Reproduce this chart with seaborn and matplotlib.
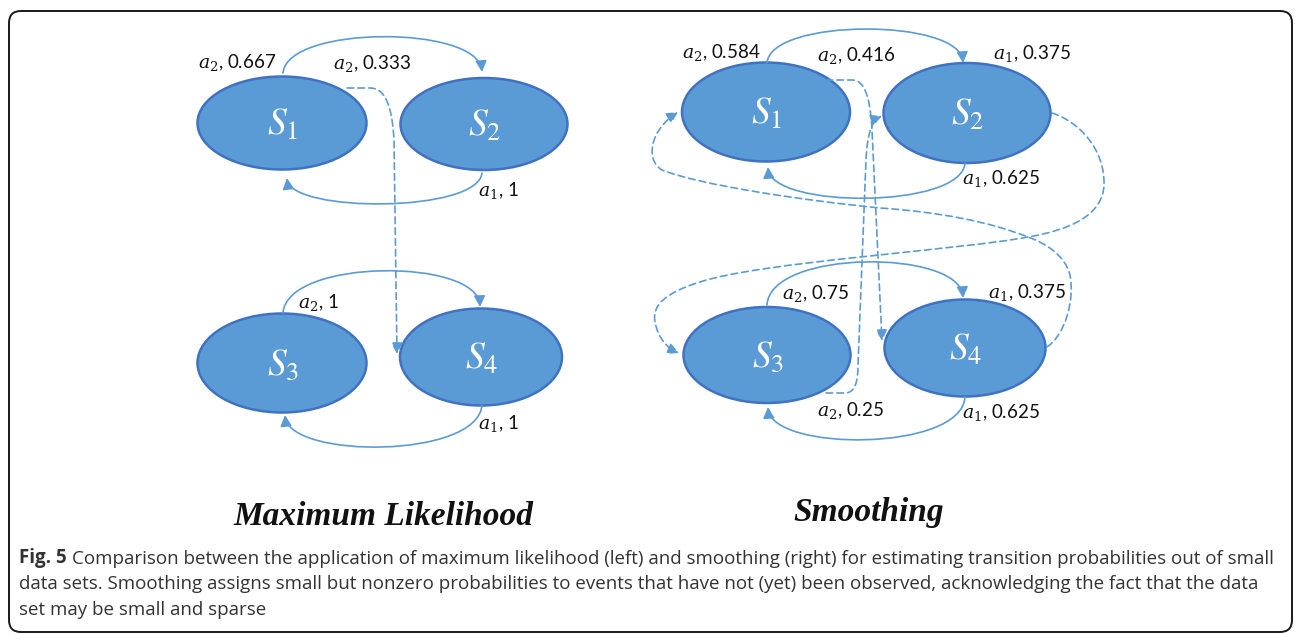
import matplotlib
matplotlib.use("Agg")
import matplotlib.pyplot as plt
import seaborn as sns
from matplotlib.patches import Ellipse, FancyArrowPatch, FancyBboxPatch
from matplotlib.path import Path

# data: states, actions and transition probabilities of both panels
state_names = ["S_1", "S_2", "S_3", "S_4"]
ml_actions = ["a_2", "a_2", "a_1", "a_2", "a_1"]
ml_probs = ["0.667", "0.333", "1", "1", "1"]
sm_actions = ["a_2", "a_2", "a_1", "a_1", "a_2", "a_1", "a_2", "a_1"]
sm_probs = ["0.584", "0.416", "0.375", "0.625", "0.75", "0.375", "0.25", "0.625"]
panel_titles = ["Maximum Likelihood", "Smoothing"]
caption_head = "Fig. 5"
caption_lines = [
    "Comparison between the application of maximum likelihood (left) and smoothing (right) for estimating transition probabilities out of small",
    "data sets. Smoothing assigns small but nonzero probabilities to events that have not (yet) been observed, acknowledging the fact that the data",
    "set may be small and sparse",
]

# layout (pixel units of the 1295x634 canvas)
ml_nodes = [(282, 123, 169, 93), (484, 124, 167, 92), (282, 363, 169, 99), (481, 357, 162, 97)]
sm_nodes = [(766, 112, 168, 99), (967, 113, 167, 100), (767, 355, 167, 96), (965, 348, 161, 97)]
ml_label_pos = [(198, 68), (333, 69), (478, 196), (298, 308), (478, 429)]
sm_label_pos = [(682, 58), (817, 61), (993, 59), (962, 184), (782, 299), (988, 298), (817, 416), (962, 418)]

ml_solid = [
    [("M", (283, 73)), ("C", (287, 25), (478, 25), (482, 72))],
    [("M", (482, 173)), ("C", (478, 213), (291, 213), (287, 178))],
    [("M", (283, 313)), ("C", (287, 258), (478, 258), (480, 307))],
    [("M", (482, 405)), ("C", (478, 459), (289, 459), (285, 415))],
]
ml_dashed = [
    [("M", (347, 88)), ("L", (370, 88)), ("C", (385, 88), (392, 105), (394, 140)), ("L", (397, 354))],
]
sm_solid = [
    [("M", (767, 63)), ("C", (770, 18), (960, 18), (963, 63))],
    [("M", (965, 163)), ("C", (962, 209), (771, 209), (768, 167))],
    [("M", (767, 305)), ("C", (770, 249), (960, 249), (963, 298))],
    [("M", (965, 397)), ("C", (962, 452), (771, 452), (768, 407))],
]
sm_dashed = [
    [("M", (826, 80)), ("L", (852, 80)), ("C", (864, 80), (870, 95), (872, 130)), ("L", (882, 341))],
    [("M", (826, 393)), ("L", (845, 393)), ("C", (855, 393), (858, 382), (858, 365)),
     ("L", (866, 160)), ("C", (867, 135), (872, 120), (882, 116))],
    [("M", (1052, 113)), ("C", (1080, 122), (1105, 150), (1104, 185)),
     ("C", (1103, 215), (1070, 230), (1028, 237)), ("C", (960, 250), (760, 262), (700, 282)),
     ("C", (665, 293), (652, 305), (655, 322)), ("C", (658, 338), (667, 348), (679, 353))],
    [("M", (1047, 347)), ("C", (1065, 335), (1075, 300), (1070, 275)),
     ("C", (1065, 255), (1045, 243), (1028, 237)), ("C", (990, 222), (940, 212), (880, 208)),
     ("C", (800, 200), (700, 185), (662, 170)), ("C", (645, 160), (650, 130), (678, 112))],
]

fill_col = "#5B9BD5"
edge_col = "#3F72C2"
arrow_col = "#5B9BD5"

sns.set_theme(style="white")
plt.rcParams["font.family"] = ["Open Sans", "DejaVu Sans"]
plt.rcParams["mathtext.fontset"] = "stix"


def make_path(spec):
    verts, codes = [], []
    for seg in spec:
        if seg[0] == "M":
            verts.append(seg[1]); codes.append(Path.MOVETO)
        elif seg[0] == "L":
            verts.append(seg[1]); codes.append(Path.LINETO)
        else:
            verts.extend(seg[1:]); codes.extend([Path.CURVE4] * 3)
    return Path(verts, codes)


def draw_arrow(ax, spec, dashed=False):
    arr = FancyArrowPatch(path=make_path(spec),
                          arrowstyle="-|>,head_length=0.55,head_width=0.28",
                          mutation_scale=12, color=arrow_col, lw=1.2,
                          linestyle=(0, (4, 2.5)) if dashed else "-", zorder=3)
    ax.add_patch(arr)


fig = plt.figure(figsize=(12.95, 6.34), dpi=100)
ax = fig.add_axes([0, 0, 1, 1])
ax.set_xlim(0, 1295)
ax.set_ylim(634, 0)
ax.axis("off")

# rounded frame
ax.add_patch(FancyBboxPatch((9, 11), 1283, 621, boxstyle="round,pad=0,rounding_size=12",
                            fill=False, edgecolor="#1a1a1a", lw=1.4))

for nodes in (ml_nodes, sm_nodes):
    for (cx, cy, w, h), name in zip(nodes, state_names):
        ax.add_patch(Ellipse((cx, cy), w, h, facecolor=fill_col, edgecolor=edge_col, lw=1.8, zorder=2))
        ax.text(cx + 1, cy + 2, r"$\mathit{%s}$" % name, color="white", fontsize=27,
                ha="center", va="center", zorder=4)

for spec in ml_solid + sm_solid:
    draw_arrow(ax, spec)
for spec in ml_dashed + sm_dashed:
    draw_arrow(ax, spec, dashed=True)

for (x, y), act, p in list(zip(ml_label_pos, ml_actions, ml_probs)) + list(zip(sm_label_pos, sm_actions, sm_probs)):
    ax.text(x, y, r"$%s$, %s" % (act, p), fontsize=13.5, family=["Lato", "DejaVu Sans"],
            math_fontfamily="dejavuserif", color="#111111", ha="left", va="baseline", zorder=5)

ax.text(383, 525, panel_titles[0], fontsize=24, family="Liberation Serif", weight="bold",
        style="italic", ha="center", va="baseline", color="#111111")
ax.text(869, 521, panel_titles[1], fontsize=24, family="Liberation Serif", weight="bold",
        style="italic", ha="center", va="baseline", color="#111111")

cap_size = 13.5
head = ax.text(19, 563, caption_head, fontsize=cap_size, weight="bold", color="#333333",
               ha="left", va="baseline")
ax.annotate(caption_lines[0], xy=(1, 0), xycoords=head, xytext=(4, 0), textcoords="offset points",
            fontsize=cap_size, color="#333333", ha="left", va="bottom")
ax.text(19, 589, caption_lines[1], fontsize=cap_size, color="#333333", ha="left", va="baseline")
ax.text(19, 615, caption_lines[2], fontsize=cap_size, color="#333333", ha="left", va="baseline")

fig.savefig("out.png", dpi=100)
